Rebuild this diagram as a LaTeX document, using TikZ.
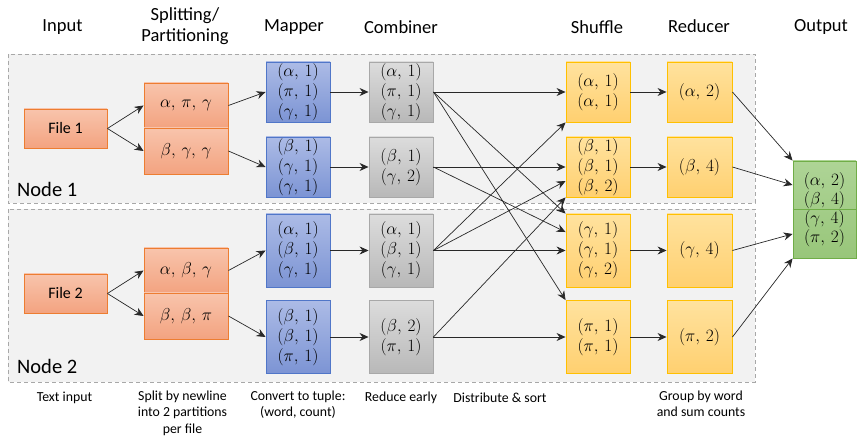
\documentclass[tikz,border=0pt]{standalone}
\usepackage{fontspec}
\setmainfont{Carlito}
\usetikzlibrary{arrows.meta,calc}

\definecolor{orgTop}{RGB}{248,196,172}
\definecolor{orgBot}{RGB}{243,163,128}
\definecolor{orgLine}{RGB}{237,125,49}
\definecolor{bluTop}{RGB}{172,187,230}
\definecolor{bluBot}{RGB}{124,148,212}
\definecolor{bluLine}{RGB}{80,118,200}
\definecolor{gryTop}{RGB}{220,220,220}
\definecolor{gryBot}{RGB}{184,184,184}
\definecolor{gryLine}{RGB}{168,168,168}
\definecolor{ylwTop}{RGB}{255,226,158}
\definecolor{ylwBot}{RGB}{255,208,112}
\definecolor{ylwLine}{RGB}{255,192,0}
\definecolor{grnTop}{RGB}{174,212,150}
\definecolor{grnBot}{RGB}{152,198,122}
\definecolor{grnLine}{RGB}{112,173,71}
\definecolor{panelFill}{RGB}{242,242,242}
\definecolor{panelLine}{RGB}{168,168,168}
\definecolor{wire}{RGB}{40,40,40}

% key/value pair and word list as set inside the boxes
\newcommand{\kv}[2]{$(#1,\,#2)$}
\newcommand{\wl}[3]{$#1,\,#2,\,#3$}

\begin{document}
\begin{tikzpicture}[x=1pt,y=-1pt,
  box/.style={rectangle, line width=0.9pt, inner sep=0pt, align=center,
    font=\fontsize{16.5}{20}\selectfont},
  inbox/.style={box, draw=orgLine, top color=orgTop, bottom color=orgBot,
    minimum width=83pt, font=\fontsize{16}{20}\selectfont},
  partbox/.style={box, draw=orgLine, top color=orgTop, bottom color=orgBot,
    minimum width=84pt},
  mapbox/.style={box, draw=bluLine, top color=bluTop, bottom color=bluBot,
    minimum width=64pt},
  combox/.style={box, draw=gryLine, top color=gryTop, bottom color=gryBot,
    minimum width=64pt},
  shufbox/.style={box, draw=ylwLine, top color=ylwTop, bottom color=ylwBot,
    minimum width=64pt},
  redbox/.style={box, draw=ylwLine, top color=ylwTop, bottom color=ylwBot,
    minimum width=65pt},
  outbox/.style={box, draw=grnLine, top color=grnTop, bottom color=grnBot,
    minimum width=63pt},
  row1/.style={minimum height=60pt},
  row2/.style={minimum height=73pt},
  arr/.style={-{Stealth[length=9pt,width=8pt,inset=3pt]}, draw=wire, line width=0.7pt},
  head/.style={font=\fontsize{18.5}{21}\selectfont, align=center, inner sep=0pt},
  note/.style={font=\fontsize{13.8}{16.5}\selectfont, align=center, inner sep=0pt},
  nodelabel/.style={font=\fontsize{20.5}{24}\selectfont, anchor=west, inner sep=0pt},
  panel/.style={draw=panelLine, fill=panelFill, dash pattern=on 4pt off 3pt, line width=0.9pt}
]
\useasboundingbox (0,0) rectangle (857,438);

% cluster machines
\path[panel] (8,54) rectangle (755,203);
\path[panel] (8,209) rectangle (755,382);
\node[nodelabel] (lblA) at (17,189) {Node 1};
\node[nodelabel] (lblB) at (17,366) {Node 2};

% stage headings
\node[head] (hIn)   at (62.5,27) {Input};
\node[head] (hSplit) at (185,26.5) {Splitting/\\Partitioning};
\node[head] (hMap)  at (294,27) {Mapper};
\node[head] (hCom)  at (401,27) {Combiner};
\node[head] (hShuf) at (597,27) {Shuffle};
\node[head] (hRed)  at (699,26) {Reducer};
\node[head] (hOut)  at (821,27) {Output};

% node 1
\node[inbox, minimum height=39pt] (file1) at (65.5,128.5) {File 1};
\node[partbox, minimum height=45pt] (sp1a) at (186,105.5) {\wl{\alpha}{\pi}{\gamma}};
\node[partbox, minimum height=46pt] (sp1b) at (186,151) {\wl{\beta}{\gamma}{\gamma}};
\node[mapbox, row1] (map1a) at (298,92)  {\kv{\alpha}{1}\\\kv{\pi}{1}\\\kv{\gamma}{1}};
\node[mapbox, row1] (map1b) at (298,167) {\kv{\beta}{1}\\\kv{\gamma}{1}\\\kv{\gamma}{1}};
\node[combox, row1] (com1a) at (401,92)  {\kv{\alpha}{1}\\\kv{\pi}{1}\\\kv{\gamma}{1}};
\node[combox, row1] (com1b) at (401,167) {\kv{\beta}{1}\\\kv{\gamma}{2}};
\node[shufbox, row1] (shu1) at (598,92)  {\kv{\alpha}{1}\\\kv{\alpha}{1}};
\node[shufbox, row1] (shu2) at (598,167) {\kv{\beta}{1}\\\kv{\beta}{1}\\\kv{\beta}{2}};
\node[redbox, row1] (red1) at (699.5,92)  {\kv{\alpha}{2}};
\node[redbox, row1] (red2) at (699.5,167) {\kv{\beta}{4}};

% node 2
\node[inbox, minimum height=39pt] (file2) at (65.5,293.5) {File 2};
\node[partbox, minimum height=45pt] (sp2a) at (186,270.5) {\wl{\alpha}{\beta}{\gamma}};
\node[partbox, minimum height=46pt] (sp2b) at (186,316) {\wl{\beta}{\beta}{\pi}};
\node[mapbox, row2] (map2a) at (298,250.5) {\kv{\alpha}{1}\\\kv{\beta}{1}\\\kv{\gamma}{1}};
\node[mapbox, row2] (map2b) at (298,337)   {\kv{\beta}{1}\\\kv{\beta}{1}\\\kv{\pi}{1}};
\node[combox, row2] (com2a) at (401,250.5) {\kv{\alpha}{1}\\\kv{\beta}{1}\\\kv{\gamma}{1}};
\node[combox, row2] (com2b) at (401,337)   {\kv{\beta}{2}\\\kv{\pi}{1}};
\node[shufbox, row2] (shu3) at (598,250.5) {\kv{\gamma}{1}\\\kv{\gamma}{1}\\\kv{\gamma}{2}};
\node[shufbox, row2] (shu4) at (598,337)   {\kv{\pi}{1}\\\kv{\pi}{1}};
\node[redbox, row2] (red3) at (699.5,250.5) {\kv{\gamma}{4}};
\node[redbox, row2] (red4) at (699.5,337)   {\kv{\pi}{2}};

% final result
\node[outbox, minimum height=97pt, font=\fontsize{16.5}{19}\selectfont] (out) at (824.5,209.5)
  {\kv{\alpha}{2}\\\kv{\beta}{4}\\\kv{\gamma}{4}\\\kv{\pi}{2}};
\draw[grnLine, line width=0.9pt] (out.west) -- (out.east);

% splitting
\draw[arr] (file1.east) -- (sp1a.west);
\draw[arr] (file1.east) -- (sp1b.west);
\draw[arr] (file2.east) -- (sp2a.west);
\draw[arr] (file2.east) -- (sp2b.west);

% mapping
\draw[arr] (sp1a.east) -- (map1a.west);
\draw[arr] (sp1b.east) -- (map1b.west);
\draw[arr] (sp2a.east) -- (map2a.west);
\draw[arr] (sp2b.east) -- (map2b.west);

% combining
\draw[arr] (map1a.east) -- (com1a.west);
\draw[arr] (map1b.east) -- (com1b.west);
\draw[arr] (map2a.east) -- (com2a.west);
\draw[arr] (map2b.east) -- (com2b.west);

% shuffling by key
\draw[arr] (com1a.east) -- (shu1.west);
\draw[arr] (com1a.east) -- (shu3.north west);
\draw[arr] (com1a.east) -- (shu4.north west);
\draw[arr] (com1b.east) -- (shu2.west);
\draw[arr] (com1b.east) -- ($(shu3.north west)!0.25!(shu3.south west)$);
\draw[arr] (com2a.east) -- (shu1.south west);
\draw[arr] (com2a.east) -- ($(shu2.north west)!0.73!(shu2.south west)$);
\draw[arr] (com2a.east) -- (shu3.west);
\draw[arr] (com2b.east) -- (shu2.south west);
\draw[arr] (com2b.east) -- (shu4.west);

% reducing
\draw[arr] (shu1.east) -- (red1.west);
\draw[arr] (shu2.east) -- (red2.west);
\draw[arr] (shu3.east) -- (red3.west);
\draw[arr] (shu4.east) -- (red4.west);

% collecting output
\draw[arr] (red1.east) -- (out.north west);
\draw[arr] (red2.east) -- ($(out.north west)!0.25!(out.south west)$);
\draw[arr] (red3.east) -- ($(out.north west)!0.75!(out.south west)$);
\draw[arr] (red4.east) -- (out.south west);

% stage descriptions
\node[note] (nIn)   at (64.5,398) {Text input};
\node[note, anchor=north] (nSplit) at (182.5,390.5) {Split by newline\\into 2 partitions\\per file};
\node[note, anchor=north] (nMap)   at (298,390.5) {Convert to tuple:\\(word, count)};
\node[note] (nCom)  at (401,398) {Reduce early};
\node[note] (nShuf) at (500,398) {Distribute \& sort};
\node[note, anchor=north] (nRed)   at (701,390.5) {Group by word\\and sum counts};
\end{tikzpicture}
\end{document}
